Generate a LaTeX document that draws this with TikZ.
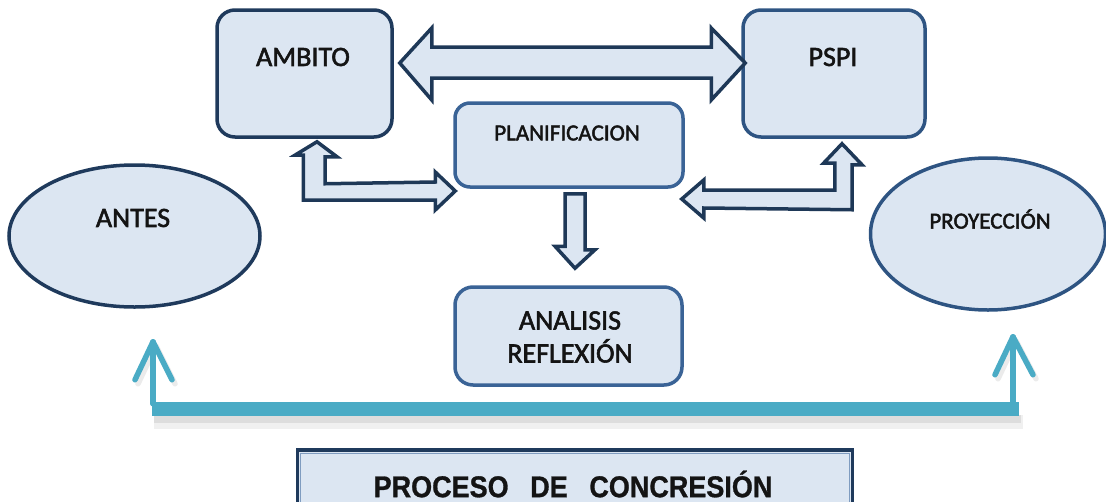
\documentclass[tikz,border=0pt]{standalone}
\usepackage{fontspec}
\setmainfont{Carlito}[FakeBold=2]
\newfontfamily\arialb{Liberation Sans}[FakeBold=1]
\usetikzlibrary{shapes.geometric,calc}
\definecolor{fillc}{HTML}{DCE6F2}
\definecolor{navy}{HTML}{1F3A5C}
\definecolor{navyb}{HTML}{2E5482}
\definecolor{navyc}{HTML}{3A6396}
\definecolor{arrowc}{HTML}{1E3857}
\definecolor{tealc}{HTML}{4AABC5}
\definecolor{txt}{HTML}{141414}
\definecolor{innerc}{HTML}{7F9CC0}
\begin{document}
\begin{tikzpicture}[x=1pt,y=-1pt,
  box/.style={draw, fill=fillc, line width=3.5pt, rounded corners=18pt, inner sep=0pt},
  ell/.style={ellipse, draw, fill=fillc, line width=3.5pt, inner sep=0pt},
  lbl/.style={font=\fontsize{28}{33}\selectfont, text=txt, inner sep=0pt, align=center},
  slbl/.style={font=\fontsize{23}{27}\selectfont, text=txt, inner sep=0pt},
  blk/.style={draw=arrowc, fill=fillc, line width=3.5pt, line join=miter},
  tline/.style={draw=tealc, line width=5.5pt, line cap=round, line join=round}]
\useasboundingbox (0,0) rectangle (1106,501);

% boxes
\node[box, draw=navy, minimum width=175pt, minimum height=127pt] (ambito) at (304.5,73.5) {};
\node[box, draw=navyb, minimum width=182pt, minimum height=127pt] (pspi) at (834,73.5) {};
\node[box, draw=navyc, rounded corners=15pt, minimum width=228pt, minimum height=84pt] (plan) at (569,145) {};
\node[box, draw=navyc, minimum width=227pt, minimum height=98pt] (anal) at (568.5,336) {};
\node[ell, draw=navy, minimum width=251pt, minimum height=142pt] (antes) at (134.5,236) {};
\node[ell, draw=navyb, minimum width=235pt, minimum height=152pt] (proy) at (988,234) {};

% labels
\node[lbl] (ambitoT) at (303,57) {AMBITO};
\node[lbl] (pspiT) at (833,57) {PSPI};
\node[slbl] (planT) at (567,133) {PLANIFICACION};
\node[lbl] (analT) at (570,337) {ANALISIS\\REFLEXIÓN};
\node[lbl] (antesT) at (133,218) {ANTES};
\node[slbl] (proyT) at (990,219) {PROYECCIÓN};

% big double arrow AMBITO <-> PSPI
\path (ambito.east) ++(6,-10.5) coordinate (bL);
\path (pspi.west) ++(4,-10.5) coordinate (bR);
\draw[blk] (bL) -- ++(32,-35) -- ++(0,19) -- ($(bR)+(-34,-16)$) -- ++(0,-19) -- (bR)
  -- ++(-34,37) -- ++(0,-22) -- ($(bL)+(32,15)$) -- ++(0,22) -- cycle;

% L arrow AMBITO <-> PLANIFICACION
\path (ambito.south) ++(12.5,3) coordinate (aT);
\path (plan.west) ++(2,46) coordinate (pL);
\draw[blk] (aT) -- ++(20,15) -- ++(-12,0) -- ++(0,27) -- ($(pL)+(-20,-9)$) -- ++(0,-10)
  -- (pL) -- ++(-20,19) -- ++(0,-10) -- ++(-132,0) -- ++(0,-45) -- ++(-8,0) -- cycle;

% L arrow PSPI <-> PLANIFICACION
\path (pspi.south) ++(8,5) coordinate (qT);
\path (plan.east) ++(-3,54) coordinate (qL);
\draw[blk] (qT) -- ++(20,21) -- ++(-10,0) -- ++(0,45) -- ($(qL)+(22,9)$) -- ++(0,10)
  -- (qL) -- ++(22,-19) -- ++(0,10) -- ++(131,0) -- ++(0,-27) -- ++(-11,0) -- cycle;

% down arrow PLANIFICACION -> ANALISIS
\path (plan.south) ++(-4,5) coordinate (dS);
\path (anal.north) ++(6.5,-17) coordinate (dT);
\draw[blk] (dS) -- ++(20,0) -- ++(0,56) -- ++(10,0) -- (dT) -- ++(-20,-22) -- ++(10,0) -- cycle;

% teal connector ANTES <-> PROYECCION
\coordinate (tA) at ($(antes.south)+(18.5,33)$);
\coordinate (tB) at ($(proy.south)+(25,25)$);
\fill[black, opacity=0.06] ($(tA)+(1,73)$) rectangle ($(tB)+(10,92)$);
\fill[black, opacity=0.08] ($(tA)+(1,73)$) rectangle ($(tB)+(8,86)$);
\draw[tline, draw=black, opacity=0.08] ($(tA)+(-15,42)$) -- ($(tA)+(3,4)$) -- ++(19,38);
\draw[tline, draw=black, opacity=0.08] ($(tB)+(-15,42)$) -- ($(tB)+(3,4)$) -- ++(20,38);
\draw[tealc, line width=14pt] ($(tA)+(-1.5,67)$) -- ($(tB)+(6,72)$);
\draw[tline] (tA) -- ++(0,62);
\draw[tline] ($(tA)+(-18,38)$) -- (tA) -- ++(19,38);
\draw[tline] (tB) -- ++(0,67);
\draw[tline] ($(tB)+(-18,38)$) -- (tB) -- ++(20,38);

% bottom title box
\node[draw=navy, fill=fillc, line width=3.5pt, inner sep=0pt, minimum width=555pt, minimum height=80pt] (proc) at (575,490) {};
\draw[innerc, line width=1.2pt] ($(proc.north west)+(5,5)$) rectangle ($(proc.south east)+(-5,-5)$);
\node[text=txt, inner sep=0pt] (procT) at (573,484) {\scalebox{0.9}[1]{\arialb\bfseries\fontsize{30}{32}\selectfont PROCESO\hspace{24pt}DE\hspace{24pt}CONCRESIÓN}};
\end{tikzpicture}
\end{document}
